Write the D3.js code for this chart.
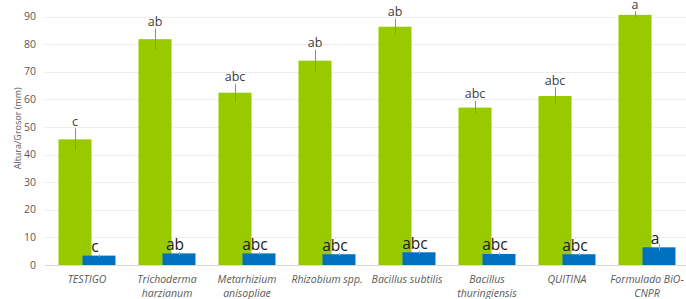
<!DOCTYPE html>
<html>
<head>
<meta charset="utf-8">
<script src="https://cdn.jsdelivr.net/npm/d3@7"></script>
<style>
    body { margin: 0; background: #fff; }
    svg { display: block; font-family: "Open Sans", sans-serif; }
</style>
</head>
<body>
<svg id="chart" width="686" height="299"></svg>
<script>
// categories (line breaks as in the original axis)
var categories = [
    ["TESTIGO"],
    ["Trichoderma", "harzianum"],
    ["Metarhizium", "anisopliae"],
    ["Rhizobium spp."],
    ["Bacillus subtilis"],
    ["Bacillus", "thuringiensis"],
    ["QUITINA"],
    ["Formulado BiO-", "CNPR"]
];
var keys = categories.map(d => d.join(" "));

// altura (green)
var altura = [45.5, 81.8, 62.4, 74.0, 86.3, 57.0, 61.2, 90.6];
var alturaErr = [4.0, 3.9, 3.2, 4.0, 2.9, 2.4, 3.2, 1.3];
var alturaLetters = ["c", "ab", "abc", "ab", "ab", "abc", "abc", "a"];

// grosor (blue)
var grosor = [3.4, 4.2, 4.2, 3.9, 4.6, 4.0, 3.9, 6.4];
var grosorErr = [0.5, 0.6, 0.5, 0.5, 0.6, 0.5, 0.5, 1.1];
var grosorLetters = ["c", "ab", "abc", "abc", "abc", "abc", "abc", "a"];

var yTicks = [0, 10, 20, 30, 40, 50, 60, 70, 80, 90];

function drawChart() {
    var svg = d3.select("svg#chart");

    var x = d3.scaleBand().domain(keys).range([47, 687]).padding(0);
    var y = d3.scaleLinear().domain([0, 90]).range([265, 16.5]);

    var barW = 33;
    var center = k => x(k) + x.bandwidth() / 2;
    var greenX = k => center(k) - 28.5;
    var blueX = k => center(k) - 4.5;

    // gridlines
    svg.append("g")
        .selectAll("line")
        .data(yTicks)
        .enter()
        .append("line")
        .attr("x1", 45)
        .attr("x2", 686)
        .attr("y1", d => Math.round(y(d)) + 0.5)
        .attr("y2", d => Math.round(y(d)) + 0.5)
        .attr("stroke", d => (d === 0 ? "#d9d9d9" : "#ececec"))
        .attr("stroke-width", 1);

    // y tick labels
    svg.append("g")
        .selectAll("text")
        .data(yTicks)
        .enter()
        .append("text")
        .attr("x", 36)
        .attr("y", d => y(d))
        .attr("dy", "0.35em")
        .attr("text-anchor", "end")
        .attr("font-size", "10.5px")
        .attr("fill", "#595959")
        .text(d => d);

    // y axis title
    svg.append("text")
        .attr("transform", "translate(21," + y(49.5) + ") rotate(-90)")
        .attr("text-anchor", "middle")
        .attr("font-size", "9px")
        .attr("fill", "#595959")
        .text("Altura/Grosor (mm)");

    // green bars
    svg.append("g")
        .selectAll("rect")
        .data(altura)
        .enter()
        .append("rect")
        .attr("x", (d, i) => greenX(keys[i]))
        .attr("y", d => y(d))
        .attr("width", barW)
        .attr("height", d => y(0) - y(d))
        .attr("fill", "#99ca00");

    // blue bars
    svg.append("g")
        .selectAll("rect")
        .data(grosor)
        .enter()
        .append("rect")
        .attr("x", (d, i) => blueX(keys[i]))
        .attr("y", d => y(d))
        .attr("width", barW)
        .attr("height", d => y(0) - y(d))
        .attr("fill", "#0070c0");

    // error bars
    var errG = svg.append("g").attr("stroke", "#8c8c8c").attr("stroke-width", 1);
    errG.selectAll("line.g")
        .data(altura)
        .enter()
        .append("line")
        .attr("class", "g")
        .attr("x1", (d, i) => Math.round(greenX(keys[i]) + barW / 2) + 0.5)
        .attr("x2", (d, i) => Math.round(greenX(keys[i]) + barW / 2) + 0.5)
        .attr("y1", (d, i) => y(d + alturaErr[i]))
        .attr("y2", (d, i) => y(d - alturaErr[i]));
    errG.selectAll("line.b")
        .data(grosor)
        .enter()
        .append("line")
        .attr("class", "b")
        .attr("x1", (d, i) => Math.round(blueX(keys[i]) + barW / 2) + 0.5)
        .attr("x2", (d, i) => Math.round(blueX(keys[i]) + barW / 2) + 0.5)
        .attr("y1", (d, i) => y(d + grosorErr[i]))
        .attr("y2", (d, i) => y(d - grosorErr[i]))
        .attr("stroke", "#a0a0a0");

    // letters over green bars
    svg.append("g")
        .selectAll("text")
        .data(altura)
        .enter()
        .append("text")
        .attr("x", (d, i) => greenX(keys[i]) + barW / 2)
        .attr("y", (d, i) => y(d + alturaErr[i]) - 2.5)
        .attr("text-anchor", "middle")
        .attr("font-size", "12.5px")
        .attr("fill", "#404040")
        .text((d, i) => alturaLetters[i]);

    // letters over blue bars
    svg.append("g")
        .selectAll("text")
        .data(grosor)
        .enter()
        .append("text")
        .attr("x", (d, i) => blueX(keys[i]) + barW / 2 - 4)
        .attr("y", d => y(d) - 3.5)
        .attr("text-anchor", "middle")
        .attr("font-size", "15.5px")
        .attr("fill", "#1a1a1a")
        .text((d, i) => grosorLetters[i]);

    // category labels
    var cat = svg.append("g")
        .selectAll("text")
        .data(categories)
        .enter()
        .append("text")
        .attr("x", (d, i) => center(keys[i]))
        .attr("y", 283)
        .attr("text-anchor", "middle")
        .attr("font-size", "10.5px")
        .attr("font-style", "italic")
        .attr("fill", "#595959");
    cat.selectAll("tspan")
        .data(d => d)
        .enter()
        .append("tspan")
        .attr("x", function() { return d3.select(this.parentNode).attr("x"); })
        .attr("dy", (d, j) => (j === 0 ? 0 : 13.5))
        .text(d => d);
}

drawChart();
</script>
</body>
</html>
